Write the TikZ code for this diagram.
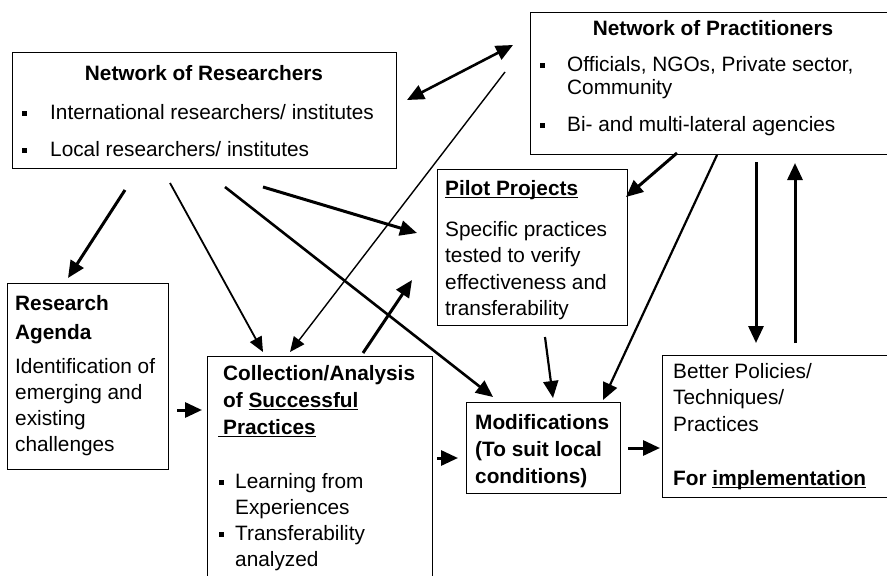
\documentclass[tikz,border=0pt]{standalone}
\usepackage{fontspec}
\setmainfont{Liberation Sans}
\usetikzlibrary{arrows.meta}

\newcommand{\undl}[1]{\setbox0\hbox{#1}\rlap{\rule[-3pt]{\wd0}{1.3pt}}\box0}

\begin{document}
\begin{tikzpicture}[x=1pt, y=-1pt,
	>={Triangle[length=17pt, width=15pt]},
	box/.style={draw, line width=1.3pt, anchor=north west, inner sep=0pt},
	txt/.style={anchor=north west, inner sep=0pt, align=left, font=\fontsize{20.8}{26.5}\selectfont},
	ttl/.style={txt, font=\fontsize{20.8}{27}\selectfont\bfseries},
	arr/.style={line width=3pt, ->},
	midarr/.style={line width=2.2pt, ->},
	thinarr/.style={line width=1.4pt, -{Triangle[length=15pt, width=13pt]}}]
	% \draw[gray, very thin] (0,0) grid +(887,576);
	\clip (0,0) rectangle (887,576);

	% boxes
	\node[box, minimum width=384, minimum height=116] (res) at (12,52) {};
	\node[box, minimum width=366, minimum height=142] (prac) at (530,12) {};
	\node[box, minimum width=190, minimum height=156] (pilot) at (437,169) {};
	\node[box, minimum width=161, minimum height=186] (agenda) at (7,283) {};
	\node[box, minimum width=225, minimum height=240] (coll) at (207,356) {};
	\node[box, minimum width=154, minimum height=91] (modif) at (466,402) {};
	\node[box, minimum width=260, minimum height=142] (better) at (662,355) {};

	% researchers
	\node[ttl, anchor=base] (resT) at (204,80) {Network of Researchers};
	\fill (22,110.5) rectangle +(5,5);
	\node[txt, anchor=base west] (resA) at (50,119) {International researchers/ institutes};
	\fill (22,147.5) rectangle +(5,5);
	\node[txt, anchor=base west] (resB) at (50,156) {Local researchers/ institutes};

	% practitioners
	\node[ttl, anchor=base] (pracT) at (713,35) {Network of Practitioners};
	\fill (540,62.5) rectangle +(5,5);
	\node[txt, font=\fontsize{20.8}{23}\selectfont] (pracA) at (567,56) {Officials, NGOs, Private sector,\\Community};
	\fill (540,122.5) rectangle +(5,5);
	\node[txt, anchor=base west] (pracB) at (567,131) {Bi- and multi-lateral agencies};

	% pilot projects
	\node[ttl, anchor=base west] (pilotT) at (445,195) {\undl{Pilot Projects}};
	\node[txt] (pilotA) at (445,221) {Specific practices\\tested to verify\\effectiveness and\\transferability};

	% research agenda
	\node[ttl, font=\fontsize{20.8}{29}\selectfont\bfseries] (agendaT) at (15,295) {Research\\Agenda};
	\node[txt, font=\fontsize{20.8}{26}\selectfont] (agendaA) at (15,358) {Identification of\\emerging and\\existing\\challenges};

	% collection
	\node[ttl] (collT) at (223,365) {Collection/Analysis\\of \undl{Successful}\\\hspace*{-5pt}\undl{\hspace{5pt}Practices}};
	\fill (219,479.5) rectangle +(5,5);
	\node[txt, font=\fontsize{20.8}{26}\selectfont] (collA) at (235,473) {Learning from\\Experiences};
	\fill (219,531.5) rectangle +(5,5);
	\node[txt, font=\fontsize{20.8}{26}\selectfont] (collB) at (235,525) {Transferability\\analyzed};

	% modifications
	\node[ttl] (modifT) at (475,414) {Modifications\\(To suit local\\conditions)};

	% better policies
	\node[txt] (betterA) at (673,363) {Better Policies/\\Techniques/\\Practices};
	\node[ttl, anchor=base west] (betterT) at (673,485) {For \undl{implementation}};

	% arrow ends
	\coordinate (rp1) at (407,100);
	\coordinate (rp2) at (513,45);
	\coordinate (pc1) at (505,72);
	\coordinate (pc2) at (290,352);
	\coordinate (ra1) at (125,190);
	\coordinate (ra2) at (68,278);
	\coordinate (rc1) at (170,183);
	\coordinate (rc2) at (263,352);
	\coordinate (rm1) at (225,187);
	\coordinate (rm2) at (493,397);
	\coordinate (rpl1) at (263,187);
	\coordinate (rpl2) at (417,233);
	\coordinate (cp1) at (363,353);
	\coordinate (cp2) at (412,280);
	\coordinate (ppl1) at (677,153);
	\coordinate (ppl2) at (626,197);
	\coordinate (pm1) at (717,155);
	\coordinate (pm2) at (603,400);
	\coordinate (pb1) at (756,162);
	\coordinate (pb2) at (756,343);
	\coordinate (bp1) at (795,343);
	\coordinate (bp2) at (795,163);
	\coordinate (plm1) at (545,337);
	\coordinate (plm2) at (553,398);
	\coordinate (ac1) at (177,410);
	\coordinate (ac2) at (202,410);
	\coordinate (cm1) at (437,458);
	\coordinate (cm2) at (458,458);
	\coordinate (mb1) at (628,448);
	\coordinate (mb2) at (660,448);

	% arrows
	\draw[line width=2.6pt, <->] (rp1) -- (rp2);
	\draw[thinarr] (pc1) -- (pc2);
	\draw[arr] (ra1) -- (ra2);
	\draw[thinarr, line width=1.8pt] (rc1) -- (rc2);
	\draw[midarr, line width=2.6pt] (rm1) -- (rm2);
	\draw[arr] (rpl1) -- (rpl2);
	\draw[arr] (cp1) -- (cp2);
	\draw[arr] (ppl1) -- (ppl2);
	\draw[midarr] (pm1) -- (pm2);
	\draw[arr] (pb1) -- (pb2);
	\draw[arr] (bp1) -- (bp2);
	\draw[midarr] (plm1) -- (plm2);
	\draw[arr] (ac1) -- (ac2);
	\draw[arr] (cm1) -- (cm2);
	\draw[arr] (mb1) -- (mb2);
\end{tikzpicture}
\end{document}
